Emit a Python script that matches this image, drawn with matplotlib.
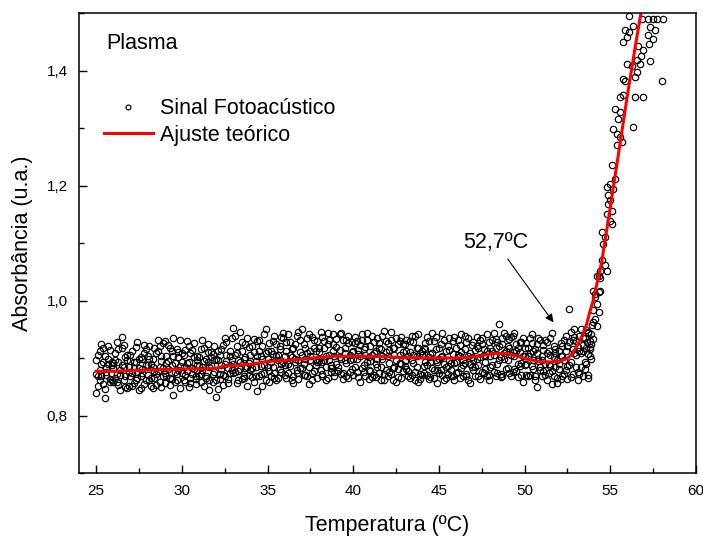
import matplotlib
matplotlib.use('Agg')
import matplotlib.pyplot as plt
from matplotlib.ticker import MultipleLocator, FuncFormatter

plt.rcParams['font.family'] = ['Liberation Sans', 'DejaVu Sans']

# temperaturas das leituras (ºC), tres varreduras no mesmo passo
temperatura = [
    25.0, 25.1, 25.2, 25.3, 25.4, 25.5, 25.6, 25.7, 25.8, 25.9,
    26.0, 26.1, 26.2, 26.3, 26.4, 26.5, 26.6, 26.7, 26.8, 26.9,
    27.0, 27.1, 27.2, 27.3, 27.4, 27.5, 27.6, 27.7, 27.8, 27.9,
    28.0, 28.1, 28.2, 28.3, 28.4, 28.5, 28.6, 28.7, 28.8, 28.9,
    29.0, 29.1, 29.2, 29.3, 29.4, 29.5, 29.6, 29.7, 29.8, 29.9,
    30.0, 30.1, 30.2, 30.3, 30.4, 30.5, 30.6, 30.7, 30.8, 30.9,
    31.0, 31.1, 31.2, 31.3, 31.4, 31.5, 31.6, 31.7, 31.8, 31.9,
    32.0, 32.1, 32.2, 32.3, 32.4, 32.5, 32.6, 32.7, 32.8, 32.9,
    33.0, 33.1, 33.2, 33.3, 33.4, 33.5, 33.6, 33.7, 33.8, 33.9,
    34.0, 34.1, 34.2, 34.3, 34.4, 34.5, 34.6, 34.7, 34.8, 34.9,
    35.0, 35.1, 35.2, 35.3, 35.4, 35.5, 35.6, 35.7, 35.8, 35.9,
    36.0, 36.1, 36.2, 36.3, 36.4, 36.5, 36.6, 36.7, 36.8, 36.9,
    37.0, 37.1, 37.2, 37.3, 37.4, 37.5, 37.6, 37.7, 37.8, 37.9,
    38.0, 38.1, 38.2, 38.3, 38.4, 38.5, 38.6, 38.7, 38.8, 38.9,
    39.0, 39.1, 39.2, 39.3, 39.4, 39.5, 39.6, 39.7, 39.8, 39.9,
    40.0, 40.1, 40.2, 40.3, 40.4, 40.5, 40.6, 40.7, 40.8, 40.9,
    41.0, 41.1, 41.2, 41.3, 41.4, 41.5, 41.6, 41.7, 41.8, 41.9,
    42.0, 42.1, 42.2, 42.3, 42.4, 42.5, 42.6, 42.7, 42.8, 42.9,
    43.0, 43.1, 43.2, 43.3, 43.4, 43.5, 43.6, 43.7, 43.8, 43.9,
    44.0, 44.1, 44.2, 44.3, 44.4, 44.5, 44.6, 44.7, 44.8, 44.9,
    45.0, 45.1, 45.2, 45.3, 45.4, 45.5, 45.6, 45.7, 45.8, 45.9,
    46.0, 46.1, 46.2, 46.3, 46.4, 46.5, 46.6, 46.7, 46.8, 46.9,
    47.0, 47.1, 47.2, 47.3, 47.4, 47.5, 47.6, 47.7, 47.8, 47.9,
    48.0, 48.1, 48.2, 48.3, 48.4, 48.5, 48.6, 48.7, 48.8, 48.9,
    49.0, 49.1, 49.2, 49.3, 49.4, 49.5, 49.6, 49.7, 49.8, 49.9,
    50.0, 50.1, 50.2, 50.3, 50.4, 50.5, 50.6, 50.7, 50.8, 50.9,
    51.0, 51.1, 51.2, 51.3, 51.4, 51.5, 51.6, 51.7, 51.8, 51.9,
    52.0, 52.1, 52.2, 52.3, 52.4, 52.5, 52.6, 52.7, 52.8, 52.9,
    53.0, 53.1, 53.2, 53.3, 53.4, 53.5, 53.6, 53.7, 53.8, 53.9,
]

# sinal fotoacustico, varredura A
absorbancia_a = [
    .872, .905, .861, .889, .918, .846, .883, .899, .864, .893,
    .891, .866, .927, .853, .879, .936, .862, .901, .847, .884,
    .868, .912, .857, .893, .876, .845, .902, .881, .922, .861,
    .903, .862, .889, .847, .917, .873, .931, .858, .894, .926,
    .929, .868, .895, .853, .912, .934, .876, .861, .901, .886,
    .874, .906, .859, .891, .921, .866, .883, .902, .855, .897,
    .869, .915, .884, .852, .899, .924, .861, .888, .907, .875,
    .833, .897, .872, .916, .853, .889, .928, .864, .903, .879,
    .952, .876, .909, .861, .893, .927, .869, .901, .884, .919,
    .906, .867, .933, .884, .843, .912, .873, .898, .941, .862,
    .884, .926, .869, .907, .938, .861, .897, .915, .876, .944,
    .871, .913, .941, .886, .902, .857, .924, .879, .896, .932,
    .951, .889, .917, .868, .854, .903, .936, .877, .912, .893,
    .894, .946, .872, .917, .903, .865, .931, .888, .912, .869,
    .889, .972, .914, .872, .931, .897, .868, .926, .905, .881,
    .912, .884, .929, .867, .903, .941, .876, .919, .893, .864,
    .895, .938, .871, .912, .884, .926, .862, .903, .947, .879,
    .869, .914, .931, .883, .906, .858, .924, .891, .937, .877,
    .924, .881, .903, .866, .939, .892, .875, .917, .859, .908,
    .871, .918, .893, .936, .864, .907, .882, .929, .897, .856,
    .899, .925, .871, .861, .913, .886, .934, .868, .907, .891,
    .918, .876, .903, .941, .869, .892, .927, .861, .909, .884,
    .879, .914, .936, .868, .902, .925, .874, .893, .942, .861,
    .903, .931, .876, .918, .889, .960, .867, .924, .899, .938,
    .921, .874, .906, .939, .881, .913, .867, .928, .892, .904,
    .918, .871, .903, .934, .886, .912, .862, .925, .894, .879,
    .868, .914, .889, .927, .874, .905, .855, .921, .884, .897,
    .912, .864, .903, .931, .879, .921, .888, .945, .872, .908,
    .905, .861, .938, .884, .922, .893, .948, .871, .916, .899,
]

# sinal fotoacustico, varredura B
absorbancia_b = [
    .840, .852, .912, .869, .893, .831, .876, .921, .858, .887,
    .859, .897, .873, .915, .844, .888, .923, .869, .906, .851,
    .895, .851, .883, .919, .866, .899, .848, .874, .909, .887,
    .871, .898, .851, .884, .866, .909, .877, .921, .849, .882,
    .857, .904, .881, .918, .864, .836, .892, .873, .911, .848,
    .893, .861, .914, .877, .849, .908, .872, .926, .864, .888,
    .902, .858, .879, .918, .866, .893, .845, .911, .872, .896,
    .861, .846, .905, .881, .922, .868, .894, .857, .912, .935,
    .874, .938, .857, .897, .881, .912, .866, .925, .851, .891,
    .879, .921, .858, .895, .929, .869, .903, .852, .887, .951,
    .912, .858, .893, .929, .874, .903, .866, .921, .889, .935,
    .903, .865, .889, .928, .861, .917, .893, .874, .946, .882,
    .882, .924, .871, .909, .941, .896, .862, .918, .887, .929,
    .918, .879, .936, .897, .862, .924, .906, .883, .941, .875,
    .933, .878, .902, .944, .863, .917, .891, .939, .876, .911,
    .871, .926, .898, .914, .859, .932, .887, .905, .944, .879,
    .921, .867, .909, .889, .935, .874, .916, .898, .861, .929,
    .903, .876, .945, .862, .918, .897, .881, .929, .866, .911,
    .886, .932, .868, .911, .896, .928, .862, .903, .941, .873,
    .912, .874, .926, .888, .902, .867, .944, .879, .916, .893,
    .874, .902, .943, .889, .866, .921, .897, .879, .929, .862,
    .893, .931, .866, .911, .887, .938, .872, .904, .857, .922,
    .927, .884, .899, .917, .863, .934, .906, .881, .912, .871,
    .884, .912, .943, .869, .927, .896, .872, .935, .908, .881,
    .896, .933, .869, .911, .944, .878, .918, .886, .927, .859,
    .887, .926, .869, .908, .941, .881, .915, .849, .898, .932,
    .903, .878, .931, .861, .912, .886, .943, .869, .908, .857,
    .881, .926, .868, .897, .939, .864, .986, .893, .932, .951,
    .929, .876, .912, .951, .868, .934, .889, .943, .903, .925,
]

# sinal fotoacustico, varredura C
absorbancia_c = [
    .897, .868, .879, .925, .855, .903, .871, .889, .914, .862,
    .882, .909, .858, .893, .871, .918, .884, .849, .897, .876,
    .905, .874, .893, .861, .928, .882, .869, .899, .854, .916,
    .887, .921, .866, .899, .878, .853, .912, .884, .903, .868,
    .874, .891, .922, .866, .887, .903, .859, .916, .879, .931,
    .908, .884, .871, .929, .893, .857, .914, .881, .869, .903,
    .886, .873, .931, .895, .869, .911, .884, .902, .858, .921,
    .899, .913, .864, .887, .871, .935, .905, .882, .874, .897,
    .889, .905, .921, .878, .946, .863, .899, .882, .934, .871,
    .894, .882, .911, .869, .903, .931, .886, .921, .874, .909,
    .898, .877, .912, .884, .866, .924, .905, .881, .936, .893,
    .888, .927, .874, .906, .915, .869, .899, .938, .864, .911,
    .906, .871, .899, .934, .885, .913, .874, .931, .897, .865,
    .911, .893, .868, .929, .884, .943, .897, .876, .924, .903,
    .919, .885, .941, .899, .874, .909, .932, .866, .896, .927,
    .898, .936, .875, .907, .922, .883, .915, .869, .931, .902,
    .878, .905, .928, .867, .899, .917, .884, .939, .872, .911,
    .926, .891, .873, .918, .884, .934, .867, .905, .889, .925,
    .895, .912, .878, .929, .871, .906, .938, .884, .918, .864,
    .905, .886, .915, .871, .929, .893, .908, .866, .937, .879,
    .918, .879, .903, .932, .885, .872, .914, .891, .868, .937,
    .874, .905, .922, .883, .897, .916, .869, .935, .889, .902,
    .896, .868, .921, .887, .931, .876, .915, .903, .869, .928,
    .917, .887, .905, .933, .874, .921, .901, .868, .944, .912,
    .882, .917, .937, .876, .903, .925, .889, .911, .871, .934,
    .903, .889, .917, .871, .926, .896, .868, .908, .935, .884,
    .896, .923, .871, .909, .889, .935, .877, .902, .916, .866,
    .889, .904, .921, .873, .912, .886, .928, .867, .915, .937,
    .884, .919, .873, .909, .935, .881, .917, .866, .929, .941,
]

# leituras na subida do sinal (transicao)
temp_transicao = [
    53.43, 53.63, 53.72, 53.72, 53.82, 53.92, 54.01, 54.01, 54.01, 54.01,
    54.11, 54.11, 54.11, 54.21, 54.21, 54.21, 54.31, 54.31, 54.31, 54.40,
    54.40, 54.40, 54.50, 54.50, 54.60, 54.70, 54.70, 54.80, 54.80, 54.80,
    54.89, 54.89, 54.99, 54.99, 54.99, 55.09, 55.09, 55.09, 55.18, 55.28,
    55.18, 55.38, 55.38, 55.47, 55.57, 55.57, 55.67, 55.28, 56.35, 55.57,
    55.76, 56.45, 56.93, 55.76, 55.86, 56.45, 58.00, 55.96, 56.25, 56.55,
    56.74, 57.32, 56.55, 56.64, 56.93, 56.78, 56.35, 55.86, 56.11, 55.96,
    55.76, 57.32, 57.61, 57.22, 57.51, 57.28, 56.06, 56.84, 57.17, 57.48,
    57.75, 58.06,
]
abs_transicao = [
    .913, .927, .945, .907, .919, .957, .983, .933, 1.017, .962,
    1.012, .968, 1.006, .994, 1.043, .956, 1.043, .980, 1.014, 1.017,
    1.052, 1.040, 1.119, 1.070, 1.099, 1.110, 1.061, 1.052, 1.197, 1.151,
    1.183, 1.168, 1.203, 1.174, 1.139, 1.235, 1.156, 1.133, 1.194, 1.212,
    1.299, 1.290, 1.270, 1.316, 1.284, 1.327, 1.275, 1.333, 1.301, 1.354,
    1.357, 1.354, 1.354, 1.386, 1.381, 1.388, 1.381, 1.412, 1.407, 1.419,
    1.412, 1.416, 1.397, 1.442, 1.435, 1.426, 1.477, 1.470, 1.467, 1.459,
    1.449, 1.475, 1.470, 1.461, 1.455, 1.446, 1.494, 1.490, 1.490, 1.490,
    1.490, 1.490,
]

# ajuste teorico
temp_ajuste = [25, 26, 27, 28, 29, 30, 31, 32, 32.5, 33, 34, 35, 36, 37,
               38, 39, 40, 41, 42, 43, 44, 45, 46, 46.8, 47.6, 48.2, 48.9,
               49.6, 50.2, 50.8, 51.6, 52.1, 52.5, 52.8, 53.0, 53.3, 53.6,
               53.8, 54.0, 54.5, 55.0, 55.5, 56.0, 56.5, 56.9]
abs_ajuste = [.877, .877, .878, .879, .880, .881, .881, .882, .886, .887,
              .889, .894, .896, .898, .901, .903, .903, .903, .902, .901,
              .900, .900, .900, .901, .905, .908, .908, .903, .898, .894,
              .893, .895, .899, .908, .918, .935, .957, .980, 1.0, 1.068,
              1.163, 1.26, 1.358, 1.45, 1.52]

fig = plt.figure(figsize=(7.03, 5.36), dpi=100)
ax = fig.add_axes([0.1124, 0.1175, 0.8777, 0.8582])

x_sinal = temperatura * 3 + temp_transicao
y_sinal = absorbancia_a + absorbancia_b + absorbancia_c + abs_transicao
ax.plot(x_sinal, y_sinal, 'o', ls='none', mfc='none', mec='black',
        ms=4.6, mew=0.85, label='Sinal Fotoacústico')
ax.plot(temp_ajuste, abs_ajuste, color='#ff0000', lw=2.2,
        label='Ajuste teórico')

ax.set_xlim(24, 60)
ax.set_ylim(0.7, 1.5)
ax.xaxis.set_major_locator(MultipleLocator(5))
ax.xaxis.set_minor_locator(MultipleLocator(2.5))
ax.yaxis.set_major_locator(MultipleLocator(0.2))
ax.yaxis.set_minor_locator(MultipleLocator(0.1))
ax.xaxis.set_major_formatter(FuncFormatter(lambda v, p: f'{v:.0f}'))
ax.yaxis.set_major_formatter(FuncFormatter(lambda v, p: f'{v:.1f}'.replace('.', ',')))
ax.tick_params(which='both', direction='in', top=False, right=False)
ax.tick_params(which='major', length=6, width=1.0, labelsize=11, pad=8)
ax.tick_params(which='minor', length=3.5, width=1.0)
for s in ax.spines.values():
    s.set_linewidth(1.1)

ax.set_xlabel('Temperatura (ºC)', fontsize=15.5, labelpad=12)
ax.set_ylabel('Absorbância (u.a.)', fontsize=15.5, labelpad=10)

ax.text(0.044, 0.933, 'Plasma', transform=ax.transAxes, fontsize=15.5,
        va='center', ha='left')

ax.legend(loc='upper left', bbox_to_anchor=(0.04, 0.815), frameon=False,
          fontsize=15.5, numpoints=1, markerscale=0.75, handlelength=2.3,
          handletextpad=0.3, labelspacing=0.25, borderpad=0, borderaxespad=0)

ax.annotate('52,7ºC', xy=(51.68, 0.962), xytext=(48.3, 1.101),
            fontsize=15.5, ha='center', va='center',
            arrowprops=dict(arrowstyle='-|>', lw=0.8, color='black',
                            mutation_scale=12, shrinkA=3, shrinkB=0,
                            relpos=(0.62, 0.0)))

fig.savefig('out.png', dpi=100)
